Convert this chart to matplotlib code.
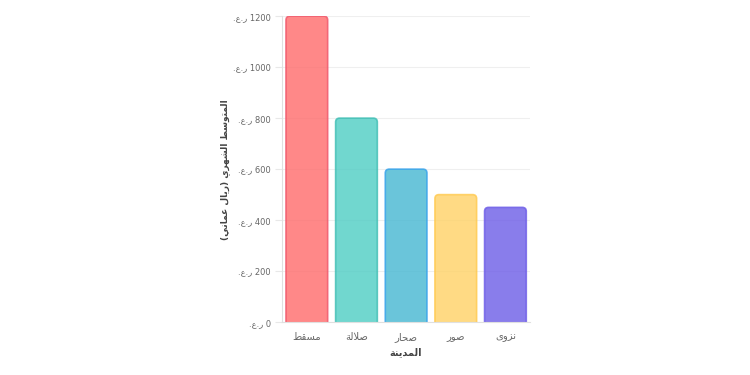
import matplotlib
matplotlib.use('Agg')
import matplotlib.pyplot as plt
from matplotlib.patches import FancyBboxPatch

cities = ['مسقط', 'صلالة', 'صحار', 'صور', 'نزوى']
values = [1200, 800, 600, 500, 450]
fill_colors = ['#FF6B6B', '#4ECDC4', '#45B7D1', '#FFD166', '#6C5CE7']
edge_colors = ['#F0566A', '#3DBDB3', '#36A2EB', '#FFC94D', '#6C5CE7']
y_ticks = [0, 200, 400, 600, 800, 1000, 1200]
currency = 'ر.ع.'
x_title = 'المدينة'
y_title = 'المتوسط الشهري (ريال عماني)'

# matplotlib has no arabic shaping, so map letters to presentation forms by hand
# (isolated, final, initial, medial)
FORMS = {
    'ا': (0xFE8D, 0xFE8E, None, None),
    'ب': (0xFE8F, 0xFE90, 0xFE91, 0xFE92),
    'ة': (0xFE93, 0xFE94, None, None),
    'ت': (0xFE95, 0xFE96, 0xFE97, 0xFE98),
    'ح': (0xFEA1, 0xFEA2, 0xFEA3, 0xFEA4),
    'د': (0xFEA9, 0xFEAA, None, None),
    'ر': (0xFEAD, 0xFEAE, None, None),
    'ز': (0xFEAF, 0xFEB0, None, None),
    'س': (0xFEB1, 0xFEB2, 0xFEB3, 0xFEB4),
    'ش': (0xFEB5, 0xFEB6, 0xFEB7, 0xFEB8),
    'ص': (0xFEB9, 0xFEBA, 0xFEBB, 0xFEBC),
    'ط': (0xFEC1, 0xFEC2, 0xFEC3, 0xFEC4),
    'ع': (0xFEC9, 0xFECA, 0xFECB, 0xFECC),
    'ق': (0xFED5, 0xFED6, 0xFED7, 0xFED8),
    'ل': (0xFEDD, 0xFEDE, 0xFEDF, 0xFEE0),
    'م': (0xFEE1, 0xFEE2, 0xFEE3, 0xFEE4),
    'ن': (0xFEE5, 0xFEE6, 0xFEE7, 0xFEE8),
    'ه': (0xFEE9, 0xFEEA, 0xFEEB, 0xFEEC),
    'و': (0xFEED, 0xFEEE, None, None),
    'ى': (0xFEEF, 0xFEF0, None, None),
    'ي': (0xFEF1, 0xFEF2, 0xFEF3, 0xFEF4),
    'لا': (0xFEFB, 0xFEFC, None, None),
}
MIRROR = {'(': ')', ')': '('}


def rtl(text):
    units = []
    i = 0
    while i < len(text):
        if text[i] == 'ل' and i + 1 < len(text) and text[i + 1] == 'ا':
            units.append('لا')
            i += 2
        else:
            units.append(text[i])
            i += 1
    out = []
    for k, u in enumerate(units):
        if u not in FORMS:
            out.append(MIRROR.get(u, u))
            continue
        f = FORMS[u]
        prev = units[k - 1] if k > 0 else None
        nxt = units[k + 1] if k + 1 < len(units) else None
        from_prev = prev in FORMS and FORMS[prev][2] is not None
        to_next = f[2] is not None and nxt in FORMS
        if from_prev and to_next:
            code = f[3]
        elif from_prev:
            code = f[1]
        elif to_next:
            code = f[2]
        else:
            code = f[0]
        out.append(chr(code))
    return ''.join(reversed(out))


plt.rcParams['font.family'] = ['DejaVu Sans']

fig = plt.figure(figsize=(7.5, 3.75), dpi=100)
ax = fig.add_axes([0.376, 0.141, 0.331, 0.816])

x = range(len(cities))
bars = ax.bar(x, values, width=0.84, color='none', edgecolor='none')

ax.set_xlim(-0.5, len(cities) - 0.5)
ax.set_ylim(0, 1200)

# swap plain rectangles for ones with rounded top corners
fig.canvas.draw()
bb = ax.get_window_extent()
aspect = (1200 / bb.height) / (len(cities) / bb.width)
for rect, fc, ec in zip(bars, fill_colors, edge_colors):
    bx, by = rect.get_x(), rect.get_y()
    bw, bh = rect.get_width(), rect.get_height()
    extra = 30
    p = FancyBboxPatch((bx, by - extra), bw, bh + extra,
                       boxstyle='round,pad=0,rounding_size=0.08',
                       mutation_aspect=aspect, facecolor=fc, alpha=0.8,
                       edgecolor=ec, linewidth=1.2, zorder=3)
    ax.add_patch(p)

ax.set_yticks(y_ticks)
ax.set_yticklabels([rtl(currency) + ' ' + str(v) for v in y_ticks])
ax.set_xticks(list(x))
ax.set_xticklabels([rtl(c) for c in cities])

ax.grid(axis='y', color='#EFEFEF', linewidth=0.8, zorder=0)
ax.tick_params(axis='y', length=5, color='#E8E8E8', labelsize=6.0, labelcolor='#666666', pad=3)
ax.tick_params(axis='x', length=0, labelsize=7.2, labelcolor='#666666', pad=7)

for s in ['top', 'right']:
    ax.spines[s].set_visible(False)
for s in ['left', 'bottom']:
    ax.spines[s].set_color('#E0E0E0')
    ax.spines[s].set_linewidth(0.8)
ax.spines['left'].set_zorder(4)
ax.spines['bottom'].set_zorder(4)

ax.set_xlabel(rtl(x_title), fontsize=7.0, fontweight='bold', color='#444444', labelpad=4)
ax.set_ylabel(rtl(y_title), fontsize=6.5, fontweight='bold', color='#444444', labelpad=2)

fig.savefig('out.png', dpi=100, facecolor='white')
